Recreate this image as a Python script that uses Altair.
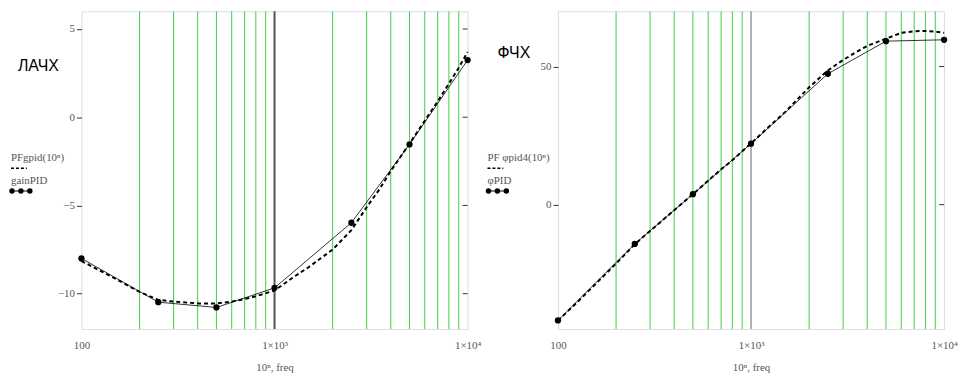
import altair as alt
import pandas as pd

# ---- data ----
pts_freq = [100, 250, 500, 1000, 2500, 5000, 10000]
gain_pid = [-8.0, -10.48, -10.78, -9.67, -5.98, -1.54, 3.24]
phi_pid = [-41.9, -14.2, 3.8, 22.1, 47.4, 59.2, 59.7]

curve_freq = [100, 125, 150, 200, 250, 300, 400, 500, 600, 700, 800, 1000,
              1250, 1500, 2000, 2500, 3000, 3500, 4000, 5000, 6000, 7000, 8000, 9000, 10000]
pf_gain = [-8.15, -8.7, -9.15, -9.9, -10.35, -10.45, -10.55, -10.55, -10.45, -10.3, -10.15, -9.82,
           -9.07, -8.5, -7.5, -6.4, -5.1, -4.07, -3.05, -1.5, -0.2, 0.9, 1.9, 2.8, 3.7]
pf_phi = [-42.0, -35.5, -30.0, -21.3, -14.3, -9.5, -2.0, 3.8, 8.7, 12.8, 16.1, 22.2,
          28.5, 33.5, 42.5, 48.6, 52.4, 55.2, 57.5, 60.1, 62.2, 62.8, 62.9, 62.7, 62.2]

grid_freq = [200, 300, 400, 500, 600, 700, 800, 900,
             2000, 3000, 4000, 5000, 6000, 7000, 8000, 9000]
gain_ticks = [-10, -5, 0, 5]
phi_ticks = [0, 50]

pts = pd.DataFrame({"f": pts_freq, "gain": gain_pid, "phi": phi_pid})
curve = pd.DataFrame({"f": curve_freq, "gain": pf_gain, "phi": pf_phi})
grid = pd.DataFrame({"f": grid_freq})
major = pd.DataFrame({"f": [1000]})

W, H = 389, 320
SERIF = "Liberation Serif"
LBL = "#555555"

label_expr = ("datum.value == 100 ? '100' : datum.value == 1000 ? '1×10³' : "
              "datum.value == 10000 ? '1×10⁴' : ''")

XS = alt.Scale(type="log", domain=[100, 10000], nice=False)


def xenc():
    return alt.X("f:Q", scale=XS,
                 axis=alt.Axis(values=[100, 1000, 10000], labelExpr=label_expr,
                               title="10ⁿ, freq", grid=False, ticks=False, domain=False,
                               labelFont=SERIF, labelFontSize=11, labelColor=LBL,
                               labelPadding=11, titleFont=SERIF, titleFontSize=11,
                               titleFontWeight="normal", titleColor=LBL, titlePadding=11,
                               labelFlush=False))


def panel(field, domain, ticks, title, leg1, leg2, title_x, title_y, major_w, major_c):
    yscale = alt.Scale(domain=domain, nice=False, zero=False)
    yax = alt.Axis(values=ticks, title=None, grid=False, domain=False, tickSize=5,
                   tickColor="#333", labelFont=SERIF, labelFontSize=11, labelColor=LBL,
                   labelPadding=2)
    one = pts.head(1)
    g = alt.Chart(grid).mark_rule(color="#44cc44", strokeWidth=1).encode(x=xenc())
    m = alt.Chart(major).mark_rule(color=major_c, strokeWidth=major_w).encode(x="f:Q")
    dash = alt.Chart(curve).mark_line(color="black", strokeWidth=2, strokeDash=[4, 3]).encode(
        x="f:Q", y=alt.Y(f"{field}:Q", scale=yscale, axis=yax))
    line = alt.Chart(pts).mark_line(color="black", strokeWidth=0.8).encode(
        x="f:Q", y=alt.Y(f"{field}:Q"))
    dots = alt.Chart(pts).mark_circle(color="black", size=40, opacity=1).encode(
        x="f:Q", y=alt.Y(f"{field}:Q"))
    rticks = alt.Chart(pd.DataFrame({field: ticks})).mark_rule(color="#333", strokeWidth=1).encode(
        x=alt.value(W - 5), x2=alt.value(W), y=alt.Y(f"{field}:Q"))
    ttl = alt.Chart(one).mark_text(text=title, font="Liberation Sans", fontSize=16,
                                   align="left", baseline="middle", color="black").encode(
        x=alt.value(title_x), y=alt.value(title_y))
    l1 = alt.Chart(one).mark_text(text=leg1, font=SERIF, fontSize=11, align="left",
                                  baseline="middle", color=LBL).encode(
        x=alt.value(-71), y=alt.value(148))
    l1line = alt.Chart(one).mark_rule(color="black", strokeWidth=1.5, strokeDash=[3, 2]).encode(
        x=alt.value(-71), x2=alt.value(-55), y=alt.value(158))
    l2 = alt.Chart(one).mark_text(text=leg2, font=SERIF, fontSize=11, align="left",
                                  baseline="middle", color=LBL).encode(
        x=alt.value(-71), y=alt.value(171))
    l2line = alt.Chart(one).mark_rule(color="black", strokeWidth=1).encode(
        x=alt.value(-70), x2=alt.value(-52), y=alt.value(181))
    ld = [alt.Chart(one).mark_circle(color="black", size=30, opacity=1).encode(
        x=alt.value(px), y=alt.value(181)) for px in (-70, -61, -52)]
    layer = alt.layer(g, m, dash, line, dots, rticks, ttl, l1, l1line, l2, l2line, *ld)
    return layer.properties(width=W, height=H)


left = panel("gain", [-12, 6], gain_ticks, "ЛАЧХ", "PFgpid(10ⁿ)", "gainPID", -64, 55, 2, "#555555")
right = panel("phi", [-45, 70], phi_ticks, "ФЧХ", "PF φpid4(10ⁿ)", "φPID", -61, 42, 1, "#666666")

chart = alt.hconcat(left, right, spacing=91, bounds="flush").properties(
    padding={"left": 0, "top": 0, "right": 0, "bottom": 0}
).configure_view(stroke="#7f7f7f", strokeWidth=2).configure(background="white")

chart.save("out.html", embed_options={"renderer": "svg", "actions": False})
